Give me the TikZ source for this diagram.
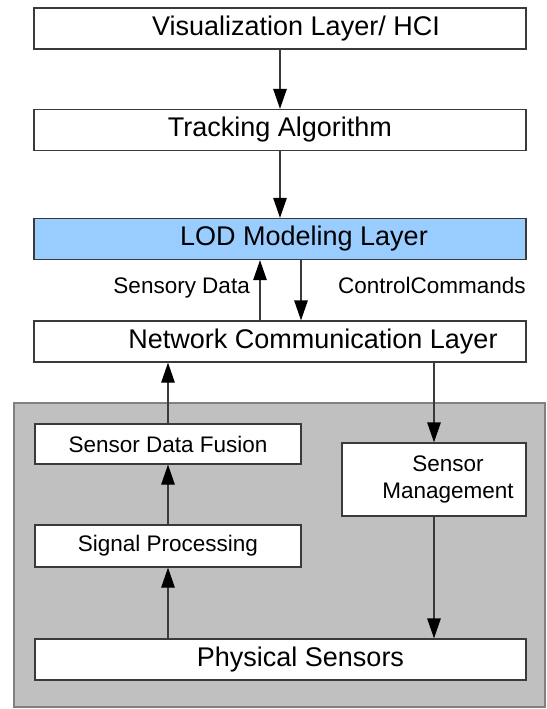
\documentclass[tikz,border=0pt]{standalone}
\usepackage{fontspec}
\setmainfont{Liberation Sans}
\usetikzlibrary{arrows.meta}
\definecolor{lodblue}{HTML}{99CCFF}
\definecolor{linegray}{HTML}{3A3A3A}
\definecolor{regiongray}{HTML}{C0C0C0}
\definecolor{regionedge}{HTML}{808080}
\newcommand{\bigtxt}{\fontsize{27}{32}\selectfont}
\newcommand{\smalltxt}{\fontsize{22.5}{27.3}\selectfont}
\tikzstyle{layer} = [draw=linegray, fill=white, line width=1.3pt, minimum width=492pt, minimum height=41pt, inner sep=0pt]
\tikzstyle{unit} = [layer, minimum width=266pt]
\tikzstyle{caption} = [inner sep=0pt, font=\bigtxt]
\tikzstyle{sidenote} = [inner sep=0pt, font=\smalltxt]
\tikzstyle{flow} = [draw=linegray, line width=1.3pt, -{Triangle[length=20pt,width=13.5pt,color=black]}]

\begin{document}
\begin{tikzpicture}[x=1pt, y=-1pt]
    \useasboundingbox (0,0) rectangle (546,709);
    % sensor side
    \draw[fill=regiongray, draw=regionedge, line width=1.3pt] (14,403) rectangle (545,707);

    \draw (280,28.5) node[layer] (vis) {};
    \node[caption] (vis-txt) at ([xshift=16pt]vis.center) {Visualization Layer/ HCI};
    \draw (280,130) node[layer, font=\bigtxt] (track) {Tracking Algorithm};
    \draw (280,239) node[layer, fill=lodblue] (lod) {};
    \node[caption] (lod-txt) at ([xshift=24pt]lod.center) {LOD Modeling Layer};
    \draw (280,341.5) node[layer] (ncl) {};
    \node[caption] (ncl-txt) at ([xshift=33pt]ncl.center) {Network Communication Layer};

    \draw (168,444) node[unit, minimum height=40pt, font=\smalltxt] (sdf) {Sensor Data Fusion};
    \draw (168,546) node[unit, minimum height=42pt, font=\smalltxt] (sp) {Signal Processing};
    \draw (434,479.5) node[layer, minimum width=184pt, minimum height=73pt] (sm) {};
    \node[sidenote, align=center] (sm-txt) at ([xshift=14pt]sm.center) {Sensor\\Management};
    \draw (280.5,659.5) node[layer, minimum width=491pt] (ps) {};
    \node[caption] (ps-txt) at ([xshift=20pt]ps.center) {Physical Sensors};

    \draw [flow] (vis) -- (track);
    \draw [flow] (track) -- (lod);
    \draw [flow] ([xshift=-20pt]ncl.north) -- ([xshift=-20pt]lod.south);
    \draw [flow] ([xshift=21pt]lod.south) -- ([xshift=21pt]ncl.north);
    \node[sidenote, anchor=base east] (sensory) at (250,293) {Sensory Data};
    \node[sidenote, anchor=base west] (control) at (338,293) {ControlCommands};

    \draw [flow] (sdf) -- (sdf |- ncl.south);
    \draw [flow] (sm |- ncl.south) -- (sm);
    \draw [flow] (sm) -- (sm |- ps.north);
    \draw [flow] (sp |- ps.north) -- (sp);
    \draw [flow] (sp) -- (sdf);
\end{tikzpicture}
\end{document}
